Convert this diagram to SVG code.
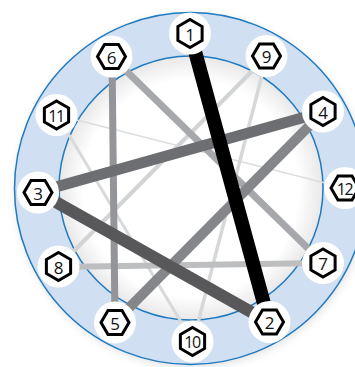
<svg xmlns="http://www.w3.org/2000/svg" width="355" height="367" viewBox="0 0 355 367">
  <defs>
    <radialGradient id="innerGrad" cx="0.5" cy="0.5" r="0.5">
      <stop offset="0.82" stop-color="#ffffff"/>
      <stop offset="1" stop-color="#e8e8e8"/>
    </radialGradient>
    <filter id="shadow" x="-20%" y="-20%" width="140%" height="140%">
      <feGaussianBlur stdDeviation="4"/>
    </filter>
    <path id="hexV" d="M0,-14 L12.12,-7 L12.12,7 L0,14 L-12.12,7 L-12.12,-7 Z"/>
    <path id="hexH" d="M14,0 L7,12.12 L-7,12.12 L-14,0 L-7,-12.12 L7,-12.12 Z"/>
  </defs>
  <style>
    .halo { fill: #ffffff; }
    .hex { fill: #ffffff; stroke: #000000; stroke-width: 3; stroke-linejoin: miter; }
    .num { font-family: "Open Sans", "Liberation Sans", sans-serif; font-size: 17px; fill: #111111; text-anchor: middle; dominant-baseline: central; }
    .two { letter-spacing: -1.5px; font-size: 16px; }
    .edge { fill: none; stroke-linecap: butt; }
  </style>

  <rect width="355" height="367" fill="#ffffff"/>
  <g id="ring">
    <circle cx="192" cy="191" r="176" fill="#b0b0b0" opacity="0.4" filter="url(#shadow)"/>
    <circle cx="190.5" cy="188.5" r="176" fill="#d0dff1" stroke="#1f7ac0" stroke-width="1.5"/>
    <circle cx="191" cy="188" r="132" fill="url(#innerGrad)" stroke="#1f7ac0" stroke-width="1.5"/>
  </g>

  <g id="connectors">
    <line class="edge" x1="57" y1="115" x2="345" y2="188" stroke="#dcdddd" stroke-width="1.5"/>
    <line class="edge" x1="57" y1="115" x2="193" y2="342" stroke="#d8d9da" stroke-width="3"/>
    <line class="edge" x1="267" y1="56" x2="193" y2="342" stroke="#d6d7d8" stroke-width="3.5"/>
    <line class="edge" x1="267" y1="56" x2="58" y2="267" stroke="#d1d3d4" stroke-width="4"/>
    <line class="edge" x1="58" y1="267" x2="323" y2="263" stroke="#bcbec0" stroke-width="6"/>
    <line class="edge" x1="112" y1="57" x2="323" y2="263" stroke="#a6a8ab" stroke-width="7"/>
    <line class="edge" x1="112" y1="57" x2="115" y2="322" stroke="#939598" stroke-width="7"/>
    <line class="edge" x1="115" y1="322" x2="323" y2="112" stroke="#858689" stroke-width="10"/>
    <line class="edge" x1="38" y1="192" x2="323" y2="112" stroke="#6d6e71" stroke-width="11"/>
    <line class="edge" x1="38" y1="192" x2="269" y2="322" stroke="#58585a" stroke-width="12"/>
    <line class="edge" x1="190" y1="33" x2="269" y2="322" stroke="#000000" stroke-width="14"/>
  </g>

  <g id="node-1" transform="translate(190,33.5)">
    <circle class="halo" r="21"/><use href="#hexV" class="hex"/><text class="num" y="0.5">1</text>
  </g>
  <g id="node-9" transform="translate(266.5,56)">
    <circle class="halo" r="21"/><use href="#hexH" class="hex"/><text class="num" y="0.5">9</text>
  </g>
  <g id="node-4" transform="translate(323,111.5)">
    <circle class="halo" r="21"/><use href="#hexV" class="hex"/><text class="num" y="0.5">4</text>
  </g>
  <g id="node-12" transform="translate(345,188)">
    <circle class="halo" r="21"/><use href="#hexH" class="hex"/><text class="num two" x="-0.5" y="0.5">12</text>
  </g>
  <g id="node-7" transform="translate(323,263)">
    <circle class="halo" r="21"/><use href="#hexV" class="hex"/><text class="num" y="0.5">7</text>
  </g>
  <g id="node-2" transform="translate(269.5,322)">
    <circle class="halo" r="21"/><use href="#hexH" class="hex"/><text class="num" y="0.5">2</text>
  </g>
  <g id="node-10" transform="translate(192.5,341.5)">
    <circle class="halo" r="21"/><use href="#hexV" class="hex"/><text class="num two" x="-0.5" y="0.5">10</text>
  </g>
  <g id="node-5" transform="translate(115,322.5)">
    <circle class="halo" r="21"/><use href="#hexH" class="hex"/><text class="num" y="0.5">5</text>
  </g>
  <g id="node-8" transform="translate(58.5,266.5)">
    <circle class="halo" r="21"/><use href="#hexV" class="hex"/><text class="num" y="0.5">8</text>
  </g>
  <g id="node-3" transform="translate(38,192.5)">
    <circle class="halo" r="21"/><use href="#hexH" class="hex"/><text class="num" y="0.5">3</text>
  </g>
  <g id="node-11" transform="translate(56.5,115)">
    <circle class="halo" r="21"/><use href="#hexV" class="hex"/><text class="num two" x="-0.5" y="0.5">11</text>
  </g>
  <g id="node-6" transform="translate(111.5,56.5)">
    <circle class="halo" r="21"/><use href="#hexH" class="hex"/><text class="num" y="0.5">6</text>
  </g>
</svg>
